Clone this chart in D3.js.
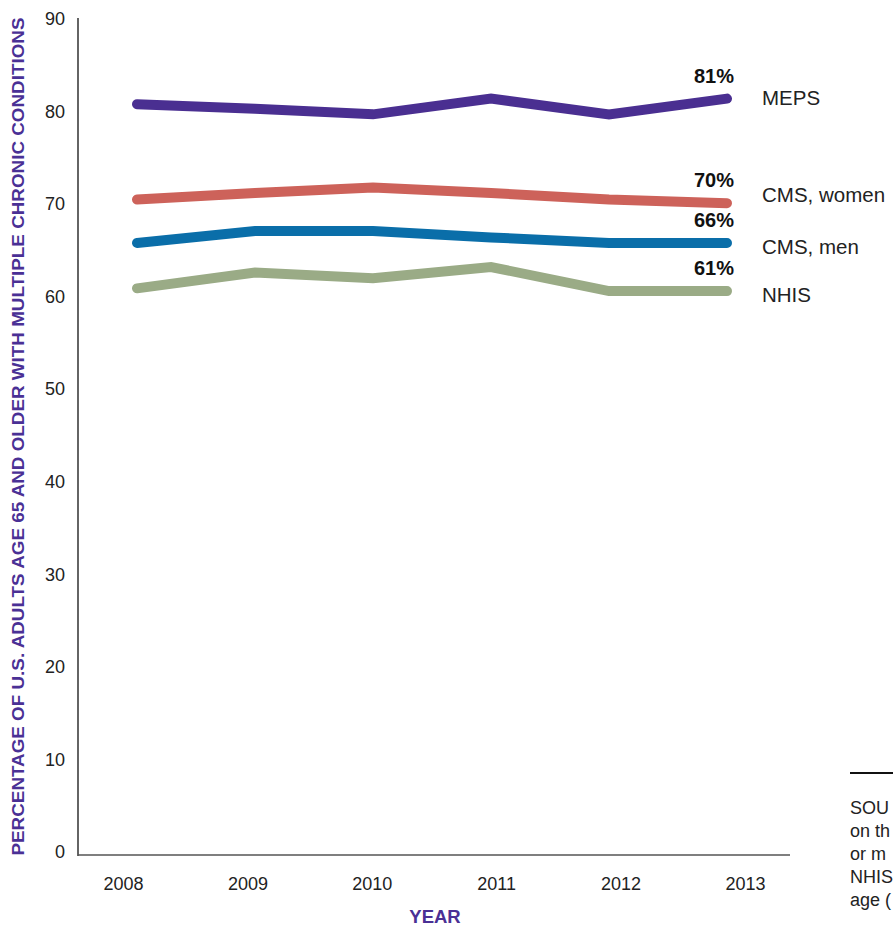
<!DOCTYPE html>
<html>
<head>
<meta charset="utf-8">
<script src="https://cdn.jsdelivr.net/npm/d3@7/dist/d3.min.js"></script>
<style>
  html, body { margin: 0; padding: 0; background: #fff; overflow: hidden; }
  svg { display: block; font-family: "Liberation Sans", Arial, Helvetica, sans-serif; }
</style>
</head>
<body>
<svg id="chart" width="893" height="927"></svg>
<script>
// ---- data ----
const years = [2008, 2009, 2010, 2011, 2012, 2013];
const yTicks = [0, 10, 20, 30, 40, 50, 60, 70, 80, 90];
const seriesNames = ["MEPS", "CMS, women", "CMS, men", "NHIS"];
const seriesColors = ["#4a2f91", "#cd625a", "#0a6ea9", "#9aab86"];
const mepsValues = [80.8, 80.3, 79.7, 81.4, 79.7, 81.4];
const cmsWomenValues = [70.5, 71.2, 71.8, 71.2, 70.5, 70.1];
const cmsMenValues = [65.8, 67.1, 67.1, 66.4, 65.8, 65.8];
const nhisValues = [60.9, 62.6, 62.0, 63.2, 60.6, 60.6];
const endLabels = ["81%", "70%", "66%", "61%"];
const yTitle = "PERCENTAGE OF U.S. ADULTS AGE 65 AND OLDER WITH MULTIPLE CHRONIC CONDITIONS";
const xTitle = "YEAR";
// the note is cut by the right edge of the page in the reference; only its visible start is kept
const sourceLines = ["SOU", "on th", "or m", "NHIS", "age ("];

const allValues = [mepsValues, cmsWomenValues, cmsMenValues, nhisValues];

// ---- layout ----
const svg = d3.select("#chart");
const axisX = 78, axisBottom = 855, axisTop = 18, axisRight = 790;

const y = d3.scaleLinear().domain([0, 90]).range([852, 19]);
const xLine = d3.scalePoint().domain(years).range([137, 727]);
const xLabel = d3.scalePoint().domain(years).range([123, 745]);

// axes lines
svg.append("line")
  .attr("x1", axisX).attr("x2", axisX)
  .attr("y1", axisTop).attr("y2", axisBottom + 1)
  .attr("stroke", "#111").attr("stroke-width", 1.3);
svg.append("line")
  .attr("x1", axisX).attr("x2", axisRight)
  .attr("y1", axisBottom).attr("y2", axisBottom)
  .attr("stroke", "#555").attr("stroke-width", 1.3);

// y axis tick labels
const yAxis = d3.axisLeft(y).tickValues(yTicks).tickSize(0).tickPadding(0);
const gy = svg.append("g").attr("transform", `translate(65,0)`).call(yAxis);
gy.select(".domain").remove();
gy.selectAll("text")
  .attr("font-size", 18).attr("fill", "#222")
  .attr("font-family", "'Liberation Sans', Arial, sans-serif");

// x axis tick labels
const xAxis = d3.axisBottom(xLabel).tickSize(0).tickPadding(0).tickFormat(d3.format("d"));
const gx = svg.append("g").attr("transform", `translate(0,877)`).call(xAxis);
gx.select(".domain").remove();
gx.selectAll("text")
  .attr("font-size", 18).attr("fill", "#222")
  .attr("font-family", "'Liberation Sans', Arial, sans-serif");

// axis titles
svg.append("text")
  .attr("transform", `translate(24,${(axisTop + axisBottom) / 2}) rotate(-90)`)
  .attr("text-anchor", "middle")
  .attr("font-size", 16.5).attr("font-weight", "bold")
  .attr("fill", "#4a3095")
  .attr("textLength", 838).attr("lengthAdjust", "spacingAndGlyphs")
  .text(yTitle);

svg.append("text")
  .attr("x", 435).attr("y", 923)
  .attr("text-anchor", "middle")
  .attr("font-size", 18.5).attr("font-weight", "bold")
  .attr("fill", "#4a3095")
  .text(xTitle);

// lines
const line = d3.line().x((d, i) => xLine(years[i])).y(d => y(d));
allValues.forEach((vals, k) => {
  svg.append("path")
    .datum(vals)
    .attr("d", line)
    .attr("fill", "none")
    .attr("stroke", seriesColors[k])
    .attr("stroke-width", 10)
    .attr("stroke-linecap", "round")
    .attr("stroke-linejoin", "miter");
});

// end value labels
const lastYear = years[years.length - 1];
allValues.forEach((vals, k) => {
  svg.append("text")
    .attr("x", xLine(lastYear) + 7)
    .attr("y", y(vals[vals.length - 1]) - 16)
    .attr("text-anchor", "end")
    .attr("font-size", 20).attr("font-weight", "bold")
    .attr("fill", "#111")
    .text(endLabels[k]);
});

// series names
const nameOffsets = [6, -1, 11, 11];
allValues.forEach((vals, k) => {
  svg.append("text")
    .attr("x", 762)
    .attr("y", y(vals[vals.length - 1]) + nameOffsets[k])
    .attr("font-size", 20.5)
    .attr("fill", "#222")
    .text(seriesNames[k]);
});

// source note
svg.append("line")
  .attr("x1", 850).attr("x2", 900)
  .attr("y1", 773).attr("y2", 773)
  .attr("stroke", "#111").attr("stroke-width", 2);
svg.append("g").selectAll("text")
  .data(sourceLines)
  .join("text")
  .attr("x", 850)
  .attr("y", (d, i) => 814 + i * 23)
  .attr("font-size", 18)
  .attr("fill", "#222")
  .text(d => d);
</script>
</body>
</html>
